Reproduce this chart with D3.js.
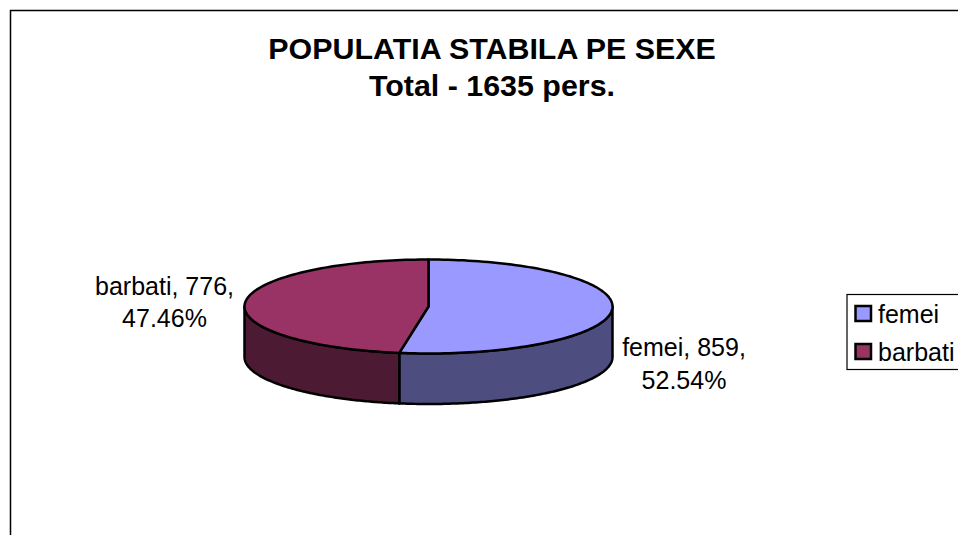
<!DOCTYPE html>
<html><head><meta charset="utf-8">
<script src="https://cdn.jsdelivr.net/npm/d3@7"></script>
<style>html,body{margin:0;padding:0;background:#fff;overflow:hidden}svg{display:block}text{font-family:"Liberation Sans",Arial,sans-serif;fill:#000}</style>
</head><body><svg id="c" width="958" height="535"></svg>
<script>
const categories = ["femei", "barbati"];
const values = [859, 776];
const percentLabels = ["52.54%", "47.46%"];
const titleLines = ["POPULATIA STABILA PE SEXE", "Total - 1635 pers."];
const topColors = ["#9999ff", "#993366"];
const sideColors = ["#4d4d80", "#4d1a33"];

const svg = d3.select("#c");
const W = 958, H = 535;
const cx = 428.5, cy = 306.5, rx = 184, ry = 47, depth = 50.5;
const FS = 25;

svg.append("path").attr("d", `M10.5,${H}V10.5H${W}`).attr("fill", "none").attr("stroke", "#000").attr("stroke-width", 1.5);

titleLines.forEach((t, i) => svg.append("text").attr("x", 492).attr("y", 58.5 + i * 37.5)
  .attr("text-anchor", "middle").attr("font-size", 30.4).attr("font-weight", "bold").text(t));

const arcs = d3.pie().sort(null)(values);
const px = d3.scaleLinear().domain([-1, 1]).range([cx - rx, cx + rx]);
const py = d3.scaleLinear().domain([-1, 1]).range([cy - ry, cy + ry]);
const pt = (a, dz = 0) => [px(Math.sin(a)), py(-Math.cos(a)) + dz];
const samples = (a0, a1) => d3.range(0, 121).map(i => a0 + (a1 - a0) * i / 120);
const line = d3.line();
const G = svg.append("g").attr("stroke", "#000").attr("stroke-width", 2.5).attr("stroke-linejoin", "round");

// side walls: only the front half of the rim (between 90 and 270 degrees) is visible
arcs.forEach((d, i) => {
  const a0 = Math.max(d.startAngle, Math.PI / 2), a1 = Math.min(d.endAngle, 3 * Math.PI / 2);
  const s = samples(a0, a1);
  G.append("path").attr("fill", sideColors[i])
    .attr("d", line([...s.map(a => pt(a)), ...s.slice().reverse().map(a => pt(a, depth))]) + "Z");
});
// top faces
arcs.forEach((d, i) => {
  G.append("path").attr("fill", topColors[i])
    .attr("d", line([[cx, cy], ...samples(d.startAngle, d.endAngle).map(a => pt(a))]) + "Z");
});

const labelPos = [[684, 356], [164.5, 294.5]];
arcs.forEach((d, i) => {
  const t = svg.append("text").attr("font-size", FS).attr("text-anchor", "middle");
  t.append("tspan").attr("x", labelPos[i][0]).attr("y", labelPos[i][1]).text(`${categories[i]}, ${values[i]},`);
  t.append("tspan").attr("x", labelPos[i][0]).attr("y", labelPos[i][1] + 32.5).text(percentLabels[i]);
});

const legend = svg.append("g");
legend.append("rect").attr("x", 847).attr("y", 294.5).attr("width", 130).attr("height", 75)
  .attr("fill", "#fff").attr("stroke", "#000").attr("stroke-width", 1.2);
categories.forEach((c, i) => {
  legend.append("rect").attr("x", 855.5).attr("y", 306 + i * 38).attr("width", 15.5).attr("height", 15)
    .attr("fill", topColors[i]).attr("stroke", "#000").attr("stroke-width", 2.5);
  legend.append("text").attr("x", 878).attr("y", 323 + i * 38).attr("font-size", FS).text(c);
});
</script></body></html>
